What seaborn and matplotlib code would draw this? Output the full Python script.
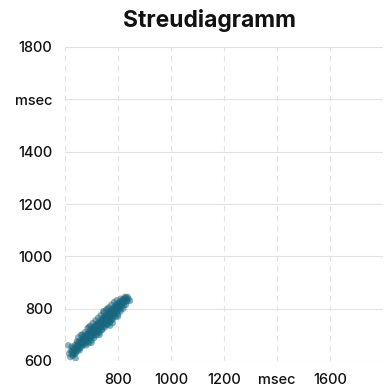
import matplotlib
matplotlib.use("Agg")
import matplotlib.pyplot as plt
import seaborn as sns
import pandas as pd

# data
x_vals = [615, 620, 622, 626, 628, 630, 633, 635, 637, 640,
          641, 643, 645, 646, 648, 650, 651, 653, 655, 656,
          658, 660, 661, 663, 664, 666, 667, 669, 670, 672,
          673, 675, 676, 678, 679, 680, 682, 683, 685, 686,
          688, 689, 690, 692, 693, 695, 696, 698, 699, 700,
          702, 703, 705, 706, 708, 709, 711, 712, 714, 715,
          717, 718, 720, 721, 723, 724, 726, 727, 729, 730,
          732, 733, 735, 736, 738, 739, 741, 742, 744, 745,
          747, 748, 750, 751, 753, 754, 756, 757, 759, 760,
          762, 763, 765, 766, 768, 769, 771, 772, 774, 775,
          777, 778, 780, 781, 783, 784, 786, 787, 789, 790,
          792, 793, 795, 796, 798, 800, 801, 803, 805, 807,
          808, 810, 812, 814, 816, 818, 820, 822, 825, 828,
          830, 833, 836, 840, 845,
          612, 640, 660, 700, 745, 770, 800, 690, 730, 650, 760, 780,
          684, 691, 697, 704, 710, 716, 722, 728, 734, 740,
          746, 752, 758, 764, 770, 776, 782, 788, 794, 688,
          694, 700, 706, 712, 718, 724, 731, 737, 743, 749,
          755, 761, 767, 773, 779, 785, 791, 797, 667, 673,
          679, 655, 661, 645, 635, 627, 803, 809, 815, 821,
          665, 675, 685, 695, 705, 715, 725, 735, 745, 755,
          765, 775, 785, 795, 680, 690, 700, 710, 720, 730,
          740, 750, 760, 770, 780, 790, 800, 810, 630, 640,
          655, 625, 645, 820, 830, 835, 826, 810]
y_vals = [628, 615, 640, 632, 622, 650, 638, 627, 660, 645,
          633, 655, 668, 640, 652, 662, 645, 675, 658, 668,
          650, 680, 665, 672, 655, 690, 676, 662, 684, 670,
          695, 680, 666, 690, 702, 676, 688, 698, 672, 705,
          690, 680, 712, 698, 686, 708, 694, 720, 704, 690,
          712, 726, 700, 716, 730, 708, 722, 698, 735, 718,
          706, 728, 740, 715, 730, 745, 722, 736, 712, 750,
          728, 742, 756, 732, 720, 748, 762, 738, 752, 730,
          768, 745, 758, 772, 740, 762, 778, 750, 765, 740,
          782, 758, 772, 788, 762, 750, 780, 795, 770, 785,
          760, 798, 778, 792, 770, 805, 786, 798, 778, 812,
          795, 805, 785, 818, 800, 812, 792, 822, 808, 798,
          826, 815, 805, 830, 818, 835, 822, 812, 838, 828,
          842, 832, 845, 838, 830,
          660, 610, 700, 670, 790, 735, 770, 730, 700, 690, 800, 745,
          694, 702, 710, 718, 716, 726, 734, 740, 746, 752,
          756, 764, 770, 778, 784, 790, 796, 800, 806, 700,
          700, 706, 712, 722, 732, 738, 738, 744, 748, 752,
          766, 774, 776, 778, 786, 792, 798, 804, 680, 685,
          690, 665, 672, 655, 645, 638, 812, 820, 825, 830,
          700, 710, 725, 735, 745, 755, 765, 775, 785, 795,
          805, 815, 825, 832, 660, 668, 678, 688, 698, 708,
          718, 728, 738, 748, 758, 768, 778, 790, 620, 628,
          640, 655, 675, 800, 815, 828, 845, 838]

ticks = [600, 800, 1000, 1200, 1400, 1600, 1800]
x_labels = ["", "800", "1000", "1200", "msec", "1600", ""]
y_labels = ["600", "800", "1000", "1200", "1400", "msec", "1800"]

df = pd.DataFrame({"x": x_vals, "y": y_vals})

sns.set_style("white")
plt.rcParams["font.family"] = ["Inter", "DejaVu Sans"]

fig = plt.figure(figsize=(3.84, 3.88), dpi=100)
ax = fig.add_axes([65 / 384, 1 - 361 / 388, 318 / 384, 314 / 388])

sns.scatterplot(data=df, x="x", y="y", ax=ax, color="#17677e", s=22,
                alpha=0.5, edgecolor="none", zorder=3)

ax.set_xlim(600, 1800)
ax.set_ylim(600, 1800)
ax.set_xticks(ticks)
ax.set_xticklabels(x_labels)
ax.set_yticks(ticks)
ax.set_yticklabels(y_labels)
ax.set_xlabel("")
ax.set_ylabel("")
ax.tick_params(axis="both", length=0, labelsize=10.5, colors="#111111")
ax.tick_params(axis="y", pad=9)
ax.tick_params(axis="x", pad=9)
for lab in ax.get_xticklabels() + ax.get_yticklabels():
    lab.set_fontweight("medium")

ax.grid(axis="x", color="#e2e2e2", linestyle=(0, (5, 4)), linewidth=0.8)
ax.grid(axis="y", color="#e2e2e2", linestyle="-", linewidth=0.8)
for sp in ax.spines.values():
    sp.set_visible(False)
ax.set_axisbelow(True)

fig.text(209 / 384, 1 - 20 / 388, "Streudiagramm", ha="center", va="center",
         fontsize=16.5, fontweight="bold", color="#111111")

fig.savefig("out.png", dpi=100)
